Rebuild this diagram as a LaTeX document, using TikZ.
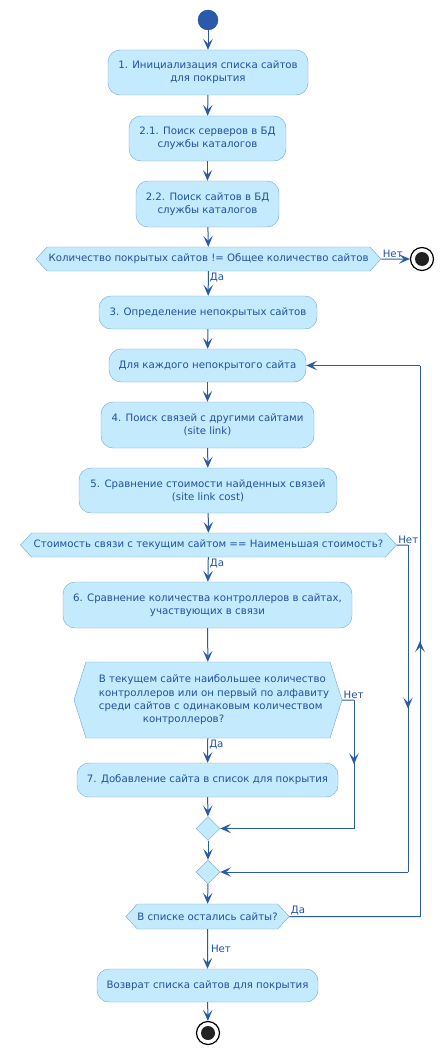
\documentclass[tikz,border=0pt]{standalone}
\usepackage{fontspec}
\setmainfont{DejaVu Sans}
\usetikzlibrary{arrows.meta}
\usetikzlibrary{shapes.geometric}
\usetikzlibrary{shapes.symbols}
\usetikzlibrary{decorations.markings}
\definecolor{mline}{HTML}{2A5AAA}
\definecolor{mfill}{HTML}{C4EBFD}
\definecolor{medge}{HTML}{74A2DB}
\definecolor{mtext}{HTML}{2050A0}
\definecolor{mdark}{HTML}{222222}
\tikzset{act/.style = {draw = medge, fill = mfill, rounded corners = 12pt, text = mtext, align = center,
    inner sep = 0, font = \fontsize{10.2}{13.3}\selectfont}}
\tikzset{cond/.style = {draw = medge, fill = mfill, signal, signal to = west and east, signal pointer angle = 95,
    text = mtext, align = center, inner sep = 0, font = \fontsize{10.2}{13.3}\selectfont}}
\tikzset{merge/.style = {draw = medge, fill = mfill, diamond, minimum size = 24pt, inner sep = 0}}
\tikzset{lbl/.style = {text = mtext, inner sep = 1pt, font = \fontsize{10.2}{12}\selectfont}}
\tikzset{wire/.style = {mline, line width = 1pt}}
\tikzset{flow/.style = {wire, -{Stealth[length = 11pt, width = 9.5pt, inset = 5pt]}}}
\tikzset{midarrow/.style = {postaction = {decorate}, decoration = {markings,
    mark = at position 0.5 with {\arrow{Stealth[length = 11pt, width = 9.5pt, inset = 5pt]}}}}}
\tikzset{stopc/.style = {circle, draw = black, line width = 1.2pt, fill = white, minimum size = 23pt, inner sep = 0,
    path picture = {\fill [mdark] (path picture bounding box.center) circle (7pt);}}}

\begin{document}
\begin{tikzpicture}[x = 1pt, y = -1pt]
  \useasboundingbox (0, 0) rectangle (445, 1054);

  \node [circle, fill = mline, draw = mtext, minimum size = 20pt, inner sep = 0] (start) at (208, 20) {};
  \node [act, minimum width = 200pt, minimum height = 45pt] (init) at (208, 72.5)
    {1. Инициализация списка сайтов\\для покрытия};
  \node [act, minimum width = 157pt, minimum height = 45pt] (servers) at (207.5, 138.5)
    {2.1. Поиск серверов в БД\\службы каталогов};
  \node [act, minimum width = 143pt, minimum height = 46pt] (sites) at (207.5, 204)
    {2.2. Поиск сайтов в БД\\службы каталогов};
  \node [cond, minimum width = 345pt, minimum height = 24pt] (covered) at (208.5, 259)
    {Количество покрытых сайтов != Общее количество сайтов};
  \node [stopc] (stopa) at (422, 259) {};
  \node [act, minimum width = 218pt, minimum height = 33pt] (uncovered) at (208, 312.5)
    {3. Определение непокрытых сайтов};
  \node [act, minimum width = 197pt, minimum height = 33pt] (each) at (207.5, 365.5)
    {Для каждого непокрытого сайта};
  \node [act, minimum width = 213pt, minimum height = 46pt] (links) at (207.5, 425)
    {4. Поиск связей с другими сайтами\\(site link)};
  \node [act, minimum width = 258pt, minimum height = 45pt] (cost) at (208, 490.5)
    {5. Сравнение стоимости найденных связей\\(site link cost)};
  \node [cond, minimum width = 376pt, minimum height = 24pt] (cheapest) at (208.5, 545)
    {Стоимость связи с текущим сайтом == Наименьшая стоимость?};
  \node [act, minimum width = 289pt, minimum height = 46pt] (dcs) at (207.5, 605)
    {6. Сравнение количества контроллеров в сайтах,\\участвующих в связи};
  \node [cond, signal pointer angle = 145, minimum width = 268pt, minimum height = 76pt, align = left] (most) at (208, 700)
    {\hspace*{12pt}В текущем сайте наибольшее количество\\\hspace*{12pt}контроллеров или он первый по алфавиту\\\hspace*{12pt}среди сайтов с одинаковым количеством\\\hspace*{56pt}контроллеров?};
  \node [act, minimum width = 261pt, minimum height = 34pt] (add) at (207.5, 780)
    {7. Добавление сайта в список для покрытия};
  \node [merge] (joina) at (208, 828.5) {};
  \node [merge] (joinb) at (208, 872) {};
  \node [cond, minimum width = 163pt, minimum height = 25pt] (left) at (207.5, 916.5)
    {В списке остались сайты?};
  \node [act, minimum width = 221pt, minimum height = 33pt] (result) at (207.5, 985.5)
    {Возврат списка сайтов для покрытия};
  \node [stopc] (stopb) at (208, 1033) {};

  \coordinate (cheapa) at (408, 545);
  \coordinate (cheapb) at (408, 872);
  \coordinate (mosta) at (354, 700);
  \coordinate (mostb) at (354, 828.5);
  \coordinate (lefta) at (420, 916.5);
  \coordinate (leftb) at (420, 365.5);

  \draw [flow] (start) -- (init);
  \draw [flow] (init) -- (servers);
  \draw [flow] (servers) -- (sites);
  \draw [flow] (sites) -- (covered);
  \draw [flow] (covered) -- node [lbl, pos = 0, anchor = south west] {Нет} (stopa);
  \draw [flow] (covered) -- node [lbl, pos = 0, anchor = north west] {Да} (uncovered);
  \draw [flow] (uncovered) -- (each);
  \draw [flow] (each) -- (links);
  \draw [flow] (links) -- (cost);
  \draw [flow] (cost) -- (cheapest);
  \draw [flow] (cheapest) -- node [lbl, pos = 0, anchor = north west] {Да} (dcs);
  \draw [flow] (dcs) -- (most);
  \draw [flow] (most) -- node [lbl, pos = 0, anchor = north west] {Да} (add);
  \draw [flow] (add) -- (joina);
  \draw [flow] (joina) -- (joinb);
  \draw [flow] (joinb) -- (left);
  \draw [flow] (left) -- node [lbl, midway, right = 2pt] {Нет} (result);
  \draw [flow] (result) -- (stopb);

  \draw [wire] (cheapest) -- node [lbl, pos = 0, anchor = south west] {Нет} (cheapa);
  \draw [wire, midarrow] (cheapa) -- (cheapb);
  \draw [flow] (cheapb) -- (joinb);

  \draw [wire] (most) -- node [lbl, pos = 0, anchor = south west] {Нет} (mosta);
  \draw [wire, midarrow] (mosta) -- (mostb);
  \draw [flow] (mostb) -- (joina);

  \draw [wire] (left) -- node [lbl, pos = 0, anchor = south west] {Да} (lefta);
  \draw [wire, midarrow] (lefta) -- (leftb);
  \draw [flow] (leftb) -- (each);
\end{tikzpicture}
\end{document}
